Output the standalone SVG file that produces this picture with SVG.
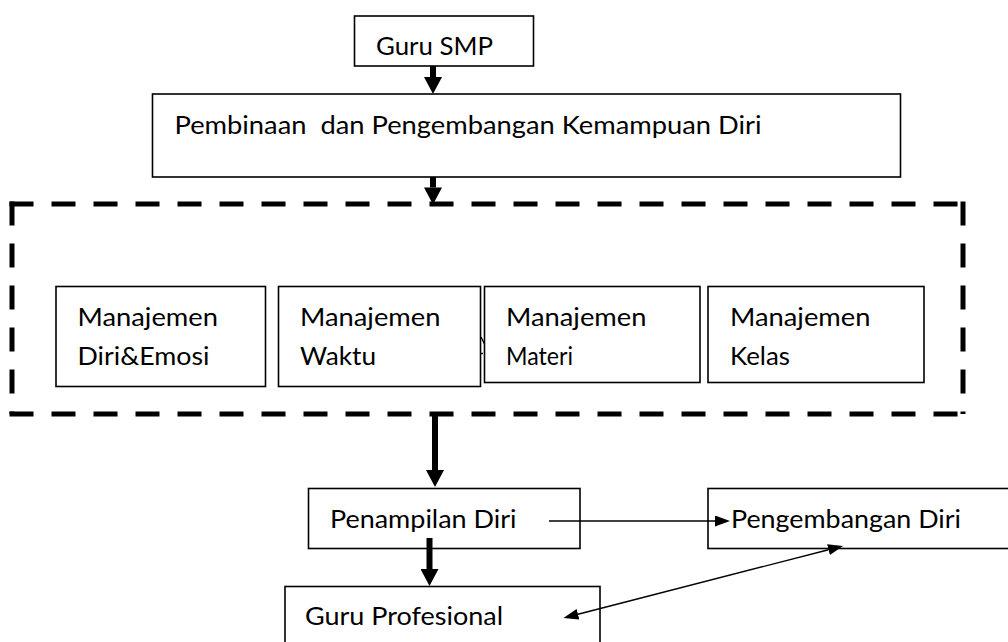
<svg xmlns="http://www.w3.org/2000/svg" width="1008" height="642" viewBox="0 0 1008 642">
<style>
.box{fill:#fff;stroke:#000;stroke-width:1.6}
.dash{fill:none;stroke:#000;stroke-width:5;stroke-dasharray:24 18}
.t{font-family:Lato,"Liberation Sans",sans-serif;font-size:25px;fill:#000}
.thick{stroke:#000;stroke-width:6;fill:none}
.thin{stroke:#000;stroke-width:1.4;fill:none}
</style>
<defs>
<marker id="hk" markerUnits="userSpaceOnUse" markerWidth="18" markerHeight="18" refX="0" refY="9" orient="auto" viewBox="0 0 17 18">
<path d="M0,0 L17,9 L0,18 z" fill="#000"/>
</marker>
<marker id="hn" markerUnits="userSpaceOnUse" markerWidth="15" markerHeight="11" refX="0" refY="5.5" orient="auto-start-reverse" viewBox="0 0 15 11">
<path d="M0,0 L15,5.5 L0,11 z" fill="#000"/>
</marker>
</defs>
<rect width="1008" height="642" fill="#fff"/>
<g id="frame">
<line class="dash" x1="9.5" y1="204" x2="966" y2="204"/>
<line class="dash" x1="9.5" y1="414" x2="966" y2="414"/>
<line class="dash" x1="12" y1="201.5" x2="12" y2="414"/>
<line class="dash" x1="963" y1="201.5" x2="963" y2="414"/>
</g>
<g id="guru-smp">
<rect class="box" x="354.5" y="16" width="179" height="50"/>
<text class="t" x="376" y="54.5" textLength="117" lengthAdjust="spacingAndGlyphs">Guru SMP</text>
</g>
<g id="pembinaan">
<rect class="box" x="152.5" y="94" width="748" height="83"/>
<text class="t" x="174.5" y="133.5" textLength="587" lengthAdjust="spacingAndGlyphs" xml:space="preserve">Pembinaan  dan Pengembangan Kemampuan Diri</text>
</g>
<g id="m-diri">
<rect class="box" x="56" y="286.5" width="209.5" height="100"/>
<text class="t" x="77.5" y="325.5" textLength="140.5" lengthAdjust="spacingAndGlyphs">Manajemen</text>
<text class="t" x="77.5" y="365" textLength="132" lengthAdjust="spacingAndGlyphs">Diri&amp;Emosi</text>
</g>
<g id="m-waktu">
<rect class="box" x="278.5" y="286.5" width="202" height="100"/>
<text class="t" x="300" y="325.5" textLength="140.5" lengthAdjust="spacingAndGlyphs">Manajemen</text>
<text class="t" x="300" y="365" textLength="76" lengthAdjust="spacingAndGlyphs">Waktu</text>
</g>
<g id="m-materi">
<rect class="box" x="484.5" y="286.5" width="215.5" height="96"/>
<text class="t" x="506" y="325.5" textLength="140.5" lengthAdjust="spacingAndGlyphs">Manajemen</text>
<text class="t" x="506" y="365" textLength="67" lengthAdjust="spacingAndGlyphs">Materi</text>
</g>
<g id="m-kelas">
<rect class="box" x="708" y="286.5" width="216" height="96"/>
<text class="t" x="730" y="325.5" textLength="140.5" lengthAdjust="spacingAndGlyphs">Manajemen</text>
<text class="t" x="730" y="365" textLength="60" lengthAdjust="spacingAndGlyphs">Kelas</text>
</g>
<g id="penampilan">
<rect class="box" x="308.5" y="488.5" width="271.5" height="60"/>
<text class="t" x="330" y="527.5" textLength="186.5" lengthAdjust="spacingAndGlyphs">Penampilan Diri</text>
</g>
<g id="pengembangan">
<rect class="box" x="708" y="488.5" width="320" height="60"/>
<text class="t" x="731" y="528" textLength="230" lengthAdjust="spacingAndGlyphs">Pengembangan Diri</text>
</g>
<g id="guru-profesional">
<rect class="box" x="285" y="586.5" width="315" height="80"/>
<text class="t" x="305" y="624.5" textLength="198" lengthAdjust="spacingAndGlyphs">Guru Profesional</text>
</g>
<g id="connectors">
<line class="thick" x1="433" y1="66" x2="433" y2="77" marker-end="url(#hk)"/>
<line class="thick" x1="433" y1="177" x2="433" y2="187.5" marker-end="url(#hk)"/>
<line class="thick" x1="435" y1="414" x2="435" y2="470" marker-end="url(#hk)"/>
<line class="thick" x1="429.5" y1="538" x2="429.5" y2="569" marker-end="url(#hk)"/>
<line class="thin" x1="549" y1="521" x2="715" y2="521" marker-end="url(#hn)"/>
<line class="thin" x1="578" y1="614.3" x2="828.5" y2="549.7" marker-start="url(#hn)" marker-end="url(#hn)"/>
<path class="thin" d="M481,337 L484.5,344 M480.5,353.5 H483"/>
</g>
</svg>
